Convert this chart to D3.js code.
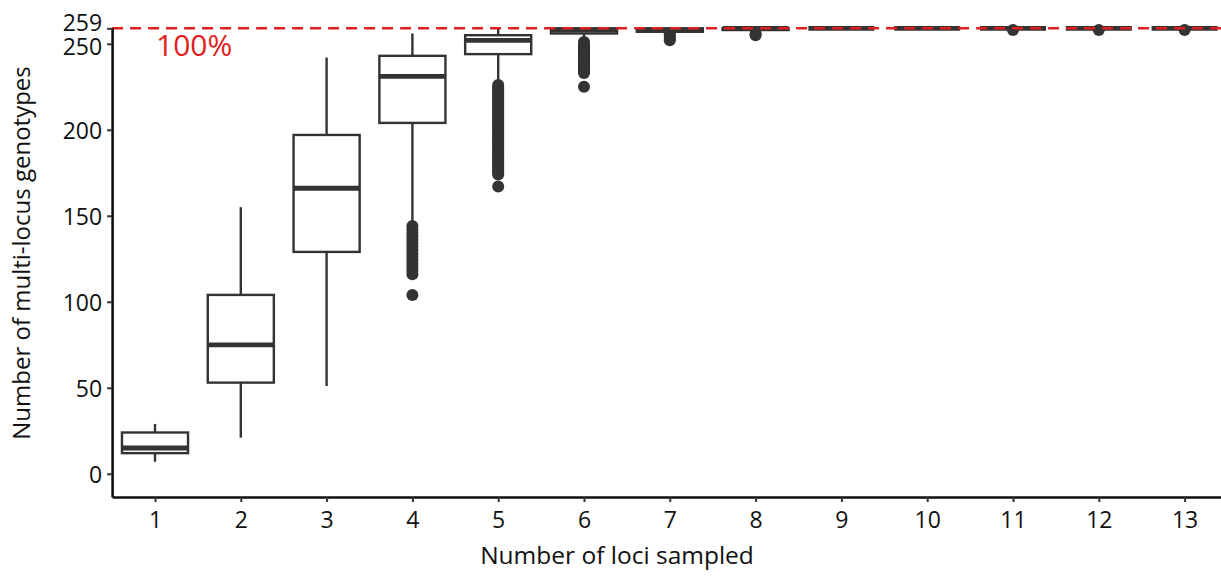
<!DOCTYPE html>
<html>
<head>
<meta charset="utf-8">
<script src="https://cdn.jsdelivr.net/npm/d3@7"></script>
<style>
  body { margin: 0; background: #fff; }
  svg { display: block; font-family: "Open Sans", "Noto Sans", sans-serif; }
</style>
</head>
<body>
<div id="chart"></div>
<script>
// number of loci sampled
var loci = [1, 2, 3, 4, 5, 6, 7, 8, 9, 10, 11, 12, 13];

// box stats
var whiskerLow  = [7,   21,  51,  145, 228, 252, 257, 258, 259, 259, 259, 259, 259];
var q1          = [12,  53,  129, 204, 244, 256, 257, 258, 259, 259, 259, 259, 259];
var median      = [15,  75,  166, 231, 252, 258, 258, 259, 259, 259, 259, 259, 259];
var q3          = [24,  104, 197, 243, 255, 259, 259, 259, 259, 259, 259, 259, 259];
var whiskerHigh = [29,  155, 242, 256, 259, 259, 259, 259, 259, 259, 259, 259, 259];

var outliers = [
  [],
  [],
  [],
  [144, 142, 140, 138, 136, 134, 132, 130, 128, 126, 124, 122, 120, 118, 116, 104],
  d3.range(226, 173, -1).concat([167]),
  d3.range(251, 232, -1).concat([225]),
  [256, 255, 254, 253, 252],
  [256, 255],
  [],
  [],
  [258],
  [258],
  [258]
];

var yTicks = [0, 50, 100, 150, 200, 250, 259];
var maxGenotypes = 259;

var W = 1221, H = 580;

var svg = d3.select("#chart")
  .append("svg")
    .attr("width", W)
    .attr("height", H);

// scales
var x = d3.scaleLinear().domain([0.5, 13.5]).range([112.1, 1227.5]);
var y = d3.scaleLinear().domain([-13.5, 259.3]).range([497, 27.8]);
var halfBox = 0.385;
var boxColor = "#333333";

// boxes
var stats = loci.map(function(d, i) {
  return {k: d, lo: whiskerLow[i], q1: q1[i], med: median[i], q3: q3[i], hi: whiskerHigh[i], out: outliers[i]};
});

var g = svg.append("g");

var box = g.selectAll("g.box")
  .data(stats)
  .enter().append("g")
    .attr("class", "box");

// whiskers
box.append("line")
  .attr("x1", function(d) { return x(d.k); })
  .attr("x2", function(d) { return x(d.k); })
  .attr("y1", function(d) { return y(d.q3); })
  .attr("y2", function(d) { return y(d.hi); })
  .attr("stroke", boxColor).attr("stroke-width", 2.4);
box.append("line")
  .attr("x1", function(d) { return x(d.k); })
  .attr("x2", function(d) { return x(d.k); })
  .attr("y1", function(d) { return y(d.q1); })
  .attr("y2", function(d) { return y(d.lo); })
  .attr("stroke", boxColor).attr("stroke-width", 2.4);

// outliers
box.selectAll("circle")
  .data(function(d) { return d.out.map(function(v) { return {k: d.k, v: v}; }); })
  .enter().append("circle")
    .attr("cx", function(d) { return x(d.k); })
    .attr("cy", function(d) { return y(d.v); })
    .attr("r", 6)
    .attr("fill", boxColor);

// the box itself
box.append("rect")
  .attr("x", function(d) { return x(d.k - halfBox); })
  .attr("width", function(d) { return x(d.k + halfBox) - x(d.k - halfBox); })
  .attr("y", function(d) { return y(d.q3); })
  .attr("height", function(d) { return y(d.q1) - y(d.q3); })
  .attr("fill", "#fff")
  .attr("stroke", boxColor).attr("stroke-width", 2.4);

// median
box.append("line")
  .attr("x1", function(d) { return x(d.k - halfBox); })
  .attr("x2", function(d) { return x(d.k + halfBox); })
  .attr("y1", function(d) { return y(d.med); })
  .attr("y2", function(d) { return y(d.med); })
  .attr("stroke", boxColor).attr("stroke-width", 4.8);

// 100% line
svg.append("line")
  .attr("x1", x(0.5)).attr("x2", W)
  .attr("y1", y(maxGenotypes)).attr("y2", y(maxGenotypes))
  .attr("stroke", "#e0201e")
  .attr("stroke-width", 2.4)
  .attr("stroke-dasharray", "11,7");

svg.append("text")
  .attr("x", 156)
  .attr("y", 56)
  .style("font-size", "30px")
  .style("fill", "#e0201e")
  .text("100%");

// axes
var xAxis = svg.append("g")
  .attr("transform", "translate(0," + y(-13.5) + ")")
  .call(d3.axisBottom(x).tickValues(loci).tickFormat(d3.format("d")).tickSize(5).tickSizeOuter(0));

var yAxis = svg.append("g")
  .attr("transform", "translate(" + x(0.5) + ",0)")
  .call(d3.axisLeft(y).tickValues(yTicks).tickSize(5).tickSizeOuter(0));

[xAxis, yAxis].forEach(function(a) {
  a.select(".domain").attr("stroke", "#111").attr("stroke-width", 2.6);
  a.selectAll(".tick line").attr("stroke", "#333").attr("stroke-width", 2);
  a.selectAll(".tick text")
    .style("font-family", "'Open Sans', sans-serif")
    .style("font-size", "23px")
    .attr("fill", "#111");
});
xAxis.selectAll(".tick text").attr("dy", "1.0em");
yAxis.selectAll(".tick text").attr("dy", "0.36em").attr("x", -10);
// 259 and 250 sit close together, nudge them apart like the original
yAxis.selectAll(".tick text").filter(function(d) { return d === 259; }).attr("dy", "0.1em");
yAxis.selectAll(".tick text").filter(function(d) { return d === 250; }).attr("dy", "0.47em");

// axis titles
svg.append("text")
  .attr("transform", "translate(30," + 253 + ") rotate(-90)")
  .style("text-anchor", "middle")
  .style("font-size", "24px")
  .style("fill", "#111")
  .text("Number of multi-locus genotypes");

svg.append("text")
  .attr("x", 617)
  .attr("y", 564)
  .style("text-anchor", "middle")
  .style("font-size", "24.5px")
  .style("fill", "#111")
  .text("Number of loci sampled");
</script>
</body>
</html>
